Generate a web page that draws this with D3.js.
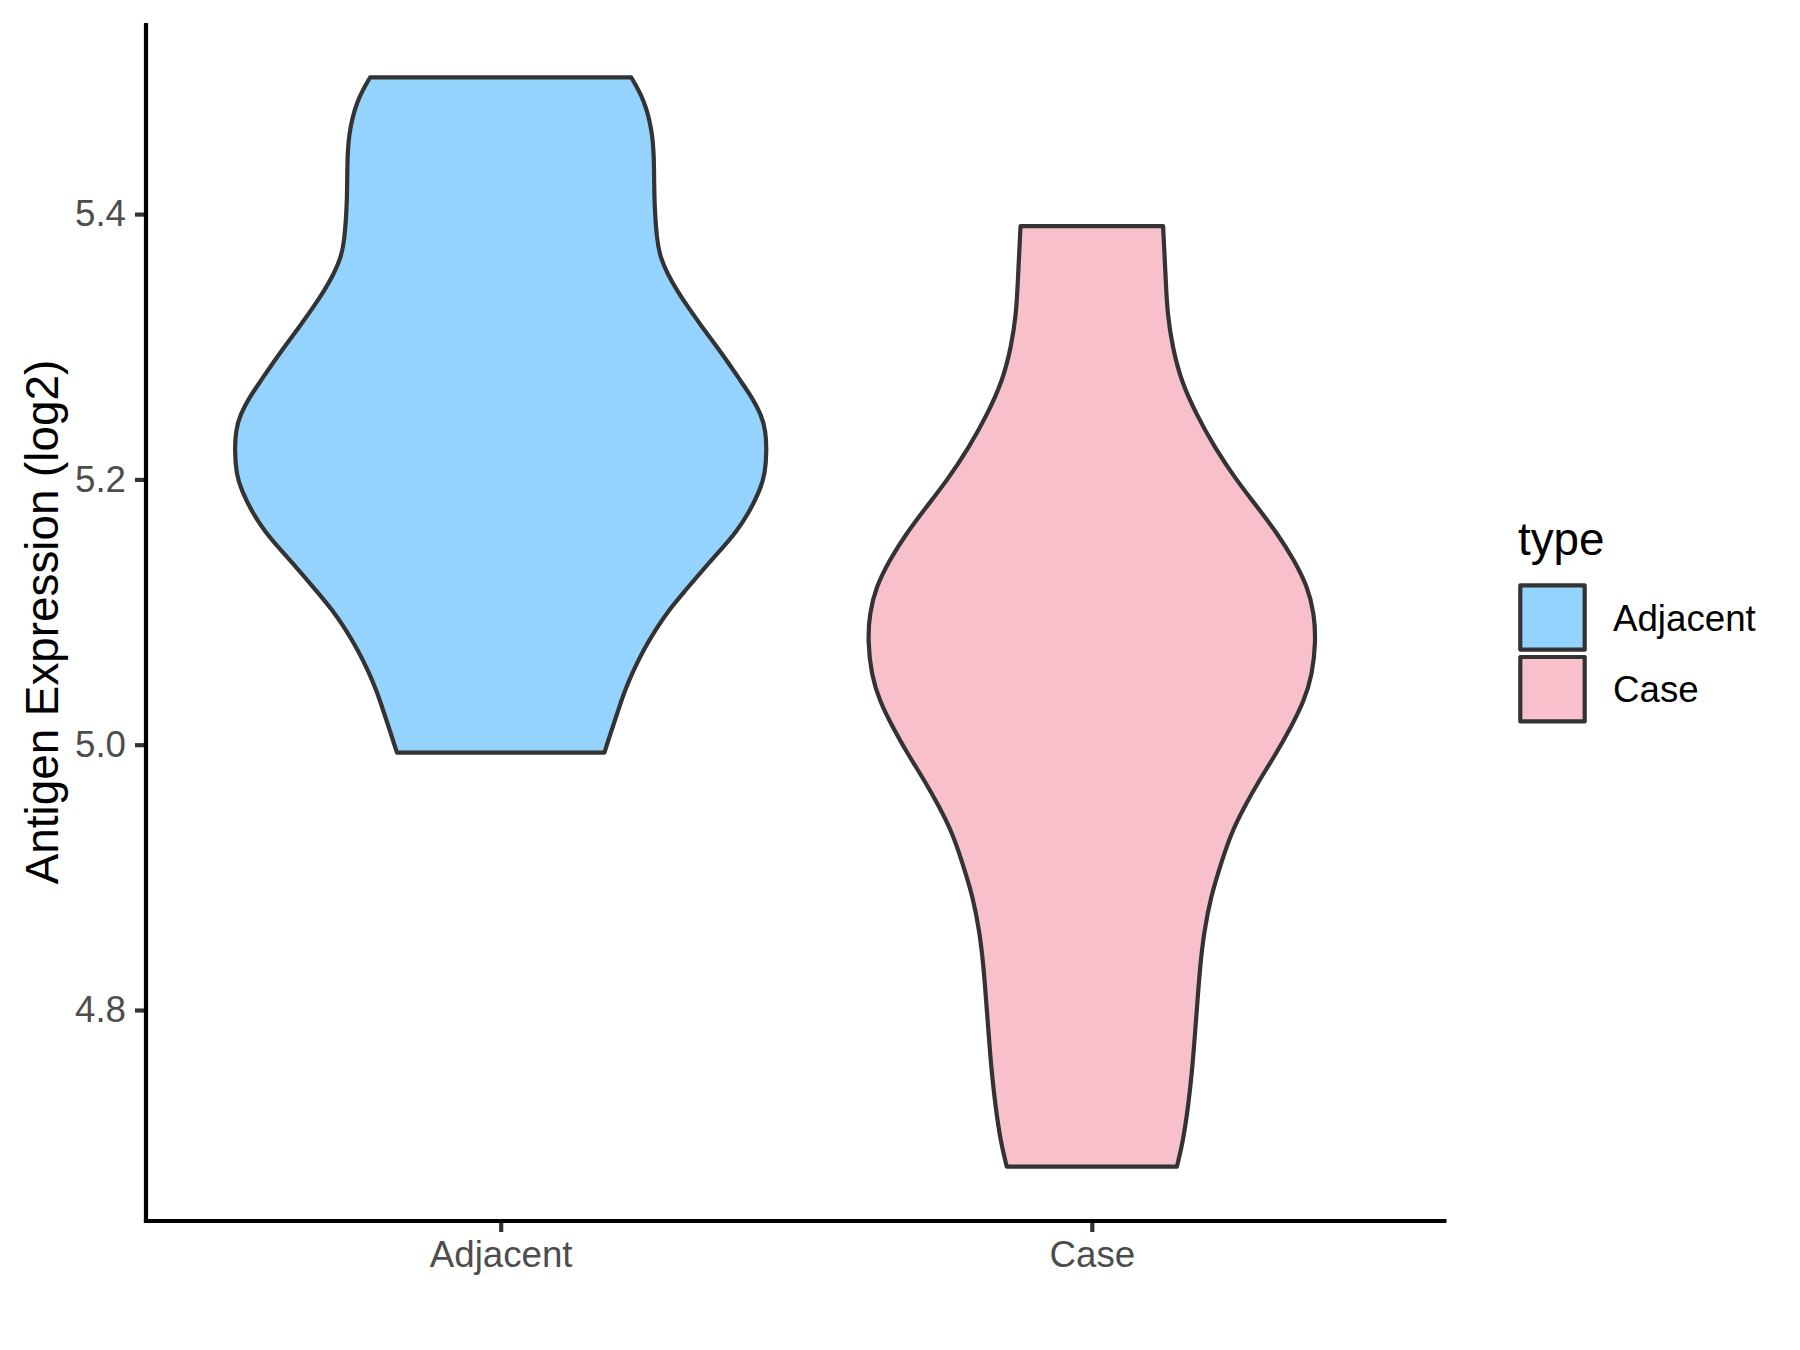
<!DOCTYPE html>
<html lang="en">
<head>
	<meta charset="utf-8">
	<title>Antigen Expression - violin</title>
	<script src="https://cdnjs.cloudflare.com/ajax/libs/d3/7.8.5/d3.min.js"></script>
	<style>
		body { margin:0; background:#fff; font-family:'Liberation Sans', Arial, sans-serif; }
	</style>
</head>
<body>
	<div class="chart"></div>

	<script>
		// data
		var categories = ["Adjacent", "Case"];
		var fills = ["#93D3FE", "#F7C0CB"];

		// expression value (log2) and relative density along the violin outline
		var adjacentExpr = [4.994, 5.011, 5.026, 5.041, 5.056, 5.071, 5.086, 5.101, 5.116, 5.131, 5.149, 5.161,
			5.174, 5.192, 5.204, 5.222, 5.237, 5.249, 5.262, 5.274, 5.289, 5.302, 5.315, 5.330, 5.342, 5.355,
			5.367, 5.380, 5.410, 5.435, 5.460, 5.486, 5.503];
		var adjacentDensity = [0.390, 0.417, 0.442, 0.467, 0.499, 0.536, 0.580, 0.630, 0.693, 0.756, 0.837, 0.887,
			0.931, 0.975, 0.994, 1.000, 0.996, 0.979, 0.944, 0.903, 0.852, 0.805, 0.757, 0.704, 0.664, 0.627,
			0.601, 0.587, 0.577, 0.577, 0.573, 0.541, 0.491];

		var caseExpr = [4.682, 4.701, 4.727, 4.754, 4.780, 4.806, 4.833, 4.859, 4.886, 4.910, 4.933, 4.953, 4.973,
			4.993, 5.013, 5.033, 5.053, 5.078, 5.099, 5.119, 5.139, 5.159, 5.179, 5.199, 5.224, 5.249, 5.274,
			5.300, 5.325, 5.350, 5.391];
		var caseDensity = [0.320, 0.343, 0.362, 0.377, 0.387, 0.397, 0.407, 0.422, 0.448, 0.485, 0.523, 0.573, 0.629,
			0.692, 0.748, 0.798, 0.829, 0.842, 0.836, 0.811, 0.761, 0.698, 0.623, 0.545, 0.462, 0.393, 0.336,
			0.303, 0.284, 0.278, 0.268];

		var yTicks = [4.8, 5.0, 5.2, 5.4];

		var width = 1800,
			height = 1350;

		var panel = {left: 146, right: 1446.5, top: 23, bottom: 1221};
		var lineW = 4.2;

		var svg = d3.select(".chart").append("svg")
			.attr("width", width)
			.attr("height", height);

		var series = [
			{name: categories[0], expr: adjacentExpr, dens: adjacentDensity, fill: fills[0]},
			{name: categories[1], expr: caseExpr, dens: caseDensity, fill: fills[1]}
		];

		// y range with ggplot's 5% expansion
		var allExpr = adjacentExpr.concat(caseExpr);
		var lo = d3.min(allExpr), hi = d3.max(allExpr), pad = (hi - lo) * 0.05;

		var y = d3.scaleLinear()
			.domain([lo - pad, hi + pad])
			.range([panel.bottom, panel.top]);

		var x = d3.scalePoint()
			.domain(categories)
			.range([panel.left, panel.right])
			.padding(0.6);

		var maxDens = d3.max(adjacentDensity.concat(caseDensity));
		var w = d3.scaleLinear()
			.domain([0, maxDens])
			.range([0, 0.45 * x.step()]);

		// violins (basis curve smooths the hand-read outline)
		series.forEach(function(s) {
			var pts = s.expr.map(function(v, i) { return {v: v, d: s.dens[i]}; });
			var cx = x(s.name);
			var area = d3.area()
				.y(function(d) { return y(d.v); })
				.x0(function(d) { return cx - w(d.d); })
				.x1(function(d) { return cx + w(d.d); })
				.curve(d3.curveBasis);

			svg.append("path")
				.datum(pts)
				.attr("d", area)
				.attr("fill", s.fill)
				.attr("stroke", "#333333")
				.attr("stroke-width", lineW)
				.attr("stroke-linejoin", "round");
		});

		// axes
		svg.append("g")
			.attr("class", "axis")
			.attr("transform", "translate(" + panel.left + ",0)")
			.call(d3.axisLeft(y).tickValues(yTicks).tickFormat(d3.format(".1f")).tickSize(11).tickSizeOuter(0).tickPadding(9));

		svg.append("g")
			.attr("class", "axis")
			.attr("transform", "translate(0," + panel.bottom + ")")
			.call(d3.axisBottom(x).tickSize(11).tickSizeOuter(0).tickPadding(9));

		svg.selectAll(".axis .domain").remove();
		svg.selectAll(".axis .tick line").attr("stroke", "#333333").attr("stroke-width", lineW);
		svg.selectAll(".axis .tick text")
			.attr("fill", "#4D4D4D")
			.style("font-size", "36.7px")
			.style("font-family", "'Liberation Sans', Arial, sans-serif");

		// axis lines (black, full panel length)
		svg.append("line")
			.attr("x1", panel.left).attr("x2", panel.left)
			.attr("y1", panel.top).attr("y2", panel.bottom + lineW / 2)
			.attr("stroke", "#000").attr("stroke-width", lineW);
		svg.append("line")
			.attr("x1", panel.left - lineW / 2).attr("x2", panel.right)
			.attr("y1", panel.bottom).attr("y2", panel.bottom)
			.attr("stroke", "#000").attr("stroke-width", lineW);

		// y axis title
		svg.append("text")
			.attr("transform", "translate(57.5," + ((panel.top + panel.bottom) / 2) + ") rotate(-90)")
			.attr("text-anchor", "middle")
			.style("font-size", "45.8px")
			.attr("fill", "#000")
			.text("Antigen Expression (log2)");

		// legend
		var legend = svg.append("g").attr("transform", "translate(1518,0)");
		legend.append("text")
			.attr("x", 0).attr("y", 555)
			.style("font-size", "45.8px")
			.attr("fill", "#000")
			.text("type");

		series.forEach(function(s, i) {
			var top = 585.3 + i * 71.7;
			legend.append("rect")
				.attr("x", 2.3).attr("y", top)
				.attr("width", 64.4).attr("height", 64.4)
				.attr("fill", s.fill)
				.attr("stroke", "#333333")
				.attr("stroke-width", lineW)
				.attr("stroke-linejoin", "round");
			legend.append("text")
				.attr("x", 95).attr("y", top + 32.2 + 13)
				.style("font-size", "36.7px")
				.attr("fill", "#000")
				.text(s.name);
		});
	</script>
</body>
</html>
